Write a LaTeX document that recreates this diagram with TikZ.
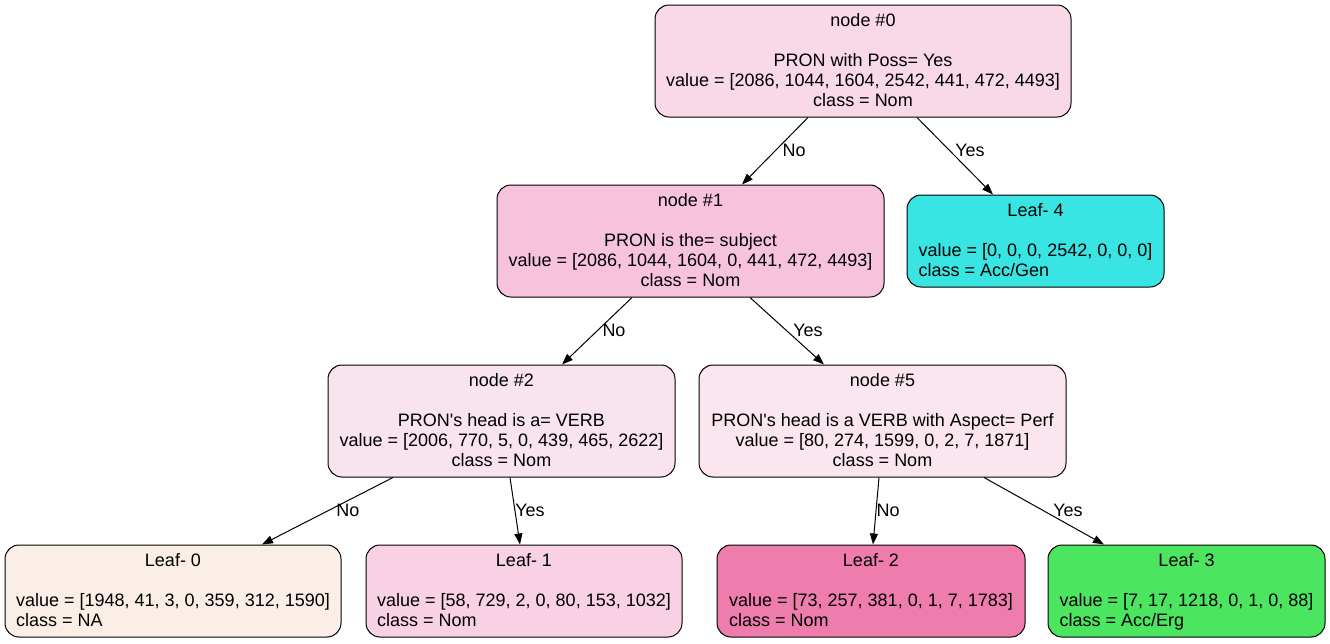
\documentclass[tikz,border=0pt]{standalone}
\usepackage{fontspec}
\setmainfont{Liberation Sans}
\newfontfamily\gvfont{Liberation Sans}
\usetikzlibrary{arrows.meta}
\definecolor{c0}{HTML}{F9D9E8}
\definecolor{c1}{HTML}{F6C2DC}
\definecolor{c4}{HTML}{39E5E2}
\definecolor{c2}{HTML}{F9E3EE}
\definecolor{c5}{HTML}{FBE6F0}
\definecolor{l0}{HTML}{FBEEE6}
\definecolor{l1}{HTML}{F8D1E4}
\definecolor{l2}{HTML}{EE7DAE}
\definecolor{l3}{HTML}{4BE55F}
\newcommand{\ctext}[1]{\raisebox{-1.6pt}[\height][\depth]{\begin{tabular}{@{}c@{}}#1\end{tabular}}}
\newcommand{\ltext}[2]{\raisebox{-1.4pt}[\height][\depth]{\begin{tabular}{@{}l@{}}\multicolumn{1}{c}{#1}\\ \\ #2\end{tabular}}}
\tikzset{
  box/.style={draw=black, line width=1pt, rounded corners=14pt, inner sep=0pt,
    font=\gvfont\fontsize{18}{20}\selectfont, minimum height=112pt},
  leafbox/.style={box, minimum height=92pt},
  edge/.style={draw=black, line width=1pt, -{Triangle[length=11pt,width=8pt]}},
  elab/.style={font=\gvfont\fontsize{18}{20}\selectfont, inner sep=0pt}
}
\begin{document}
\begin{tikzpicture}[x=1pt,y=-1pt]
\useasboundingbox (0,0) rectangle (1330,643);
\renewcommand{\arraystretch}{1}
% internal nodes
\node[box, fill=c0, minimum width=416pt] (n0) at (863,61)
  {\ctext{node \#0\\ \\ PRON with Poss= Yes\\ value = [2086, 1044, 1604, 2542, 441, 472, 4493]\\ class = Nom}};
\node[box, fill=c1, minimum width=387pt] (n1) at (690.5,241)
  {\ctext{node \#1\\ \\ PRON is the= subject\\ value = [2086, 1044, 1604, 0, 441, 472, 4493]\\ class = Nom}};
\node[leafbox, fill=c4, minimum width=257pt] (l4) at (1035.5,241)
  {\ltext{Leaf- 4}{value = [0, 0, 0, 2542, 0, 0, 0]\\ class = Acc/Gen}};
\node[box, fill=c2, minimum width=347pt] (n2) at (501.5,421)
  {\ctext{node \#2\\ \\ PRON's head is a= VERB\\ value = [2006, 770, 5, 0, 439, 465, 2622]\\ class = Nom}};
\node[box, fill=c5, minimum width=367pt] (n5) at (882.5,421)
  {\ctext{node \#5\\ \\ PRON's head is a VERB with Aspect= Perf\\ value = [80, 274, 1599, 0, 2, 7, 1871]\\ class = Nom}};
% leaves
\node[leafbox, fill=l0, minimum width=336pt] (l0) at (173,591)
  {\ltext{Leaf- 0}{value = [1948, 41, 3, 0, 359, 312, 1590]\\ class = NA}};
\node[leafbox, fill=l1, minimum width=316pt] (l1) at (524,591)
  {\ltext{Leaf- 1}{value = [58, 729, 2, 0, 80, 153, 1032]\\ class = Nom}};
\node[leafbox, fill=l2, minimum width=308pt] (l2) at (871,591)
  {\ltext{Leaf- 2}{value = [73, 257, 381, 0, 1, 7, 1783]\\ class = Nom}};
\node[leafbox, fill=l3, minimum width=277pt] (l3) at (1186.5,591)
  {\ltext{Leaf- 3}{value = [7, 17, 1218, 0, 1, 0, 88]\\ class = Acc/Erg}};
% edges
\draw[edge] ([xshift=-55pt]n0.south) -- ([xshift=51.5pt]n1.north);
\draw[edge] ([xshift=54pt]n0.south) -- ([xshift=-42.5pt]l4.north);
\draw[edge] ([xshift=-58.5pt]n1.south) -- ([xshift=60.5pt]n2.north);
\draw[edge] ([xshift=59.5pt]n1.south) -- ([xshift=-58.5pt]n5.north);
\draw[edge] ([xshift=-108.5pt]n2.south) -- ([xshift=89pt]l0.north);
\draw[edge] ([xshift=8.5pt]n2.south) -- ([xshift=-4pt]l1.north);
\draw[edge] ([xshift=-3.5pt]n5.south) -- ([xshift=2pt]l2.north);
\draw[edge] ([xshift=101.5pt]n5.south) -- ([xshift=-82.5pt]l3.north);
% edge labels
\node[elab] (e01) at (794,150) {No};
\node[elab] (e04) at (970,150) {Yes};
\node[elab] (e12) at (614,330) {No};
\node[elab] (e15) at (808,330) {Yes};
\node[elab] (e20) at (348,510) {No};
\node[elab] (e21) at (530,510) {Yes};
\node[elab] (e52) at (888,510) {No};
\node[elab] (e53) at (1068,510) {Yes};
\end{tikzpicture}
\end{document}
